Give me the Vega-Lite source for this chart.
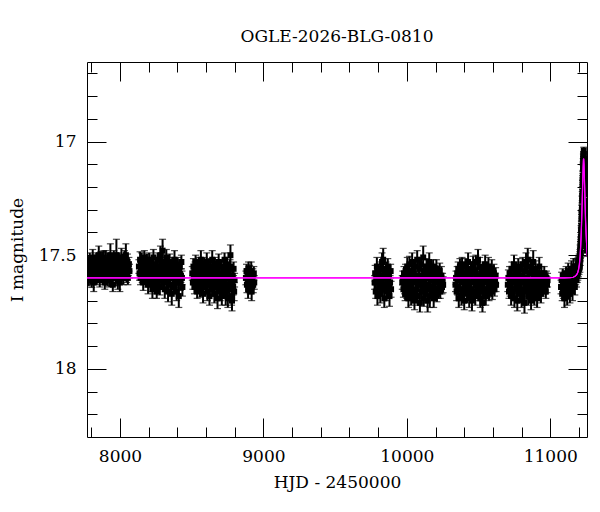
{
  "$schema": "https://vega.github.io/schema/vega-lite/v6.json",
  "autosize": "none",
  "width": 500,
  "height": 375,
  "padding": {"left": 87, "top": 62, "right": 13, "bottom": 75},
  "background": "white",
  "title": {"text": "OGLE-2026-BLG-0810", "font": "DejaVu Serif", "fontSize": 17, "fontWeight": "normal", "color": "black", "offset": 16},
  "config": {
    "view": {"stroke": "black", "strokeWidth": 1},
    "axis": {"labelFont": "DejaVu Serif", "titleFont": "DejaVu Serif", "labelFontSize": 17, "titleFontSize": 17, "titleFontWeight": "normal", "labelColor": "black", "titleColor": "black", "tickColor": "black", "tickWidth": 1, "domain": false, "grid": false}
  },
  "datasets": {
    "obs": [
      {"t":7772,"m":17.55,"e":0.03},{"t":7775,"m":17.58,"e":0.03},{"t":7779,"m":17.53,"e":0.025},{"t":7782,"m":17.60,"e":0.035},{"t":7786,"m":17.56,"e":0.03},{"t":7789,"m":17.52,"e":0.03},{"t":7793,"m":17.59,"e":0.04},{"t":7796,"m":17.57,"e":0.028},{"t":7800,"m":17.54,"e":0.03},{"t":7803,"m":17.61,"e":0.032},
      {"t":7807,"m":17.55,"e":0.03},{"t":7810,"m":17.51,"e":0.035},{"t":7814,"m":17.58,"e":0.03},{"t":7817,"m":17.62,"e":0.04},{"t":7821,"m":17.56,"e":0.03},{"t":7824,"m":17.53,"e":0.028},{"t":7828,"m":17.59,"e":0.03},{"t":7831,"m":17.55,"e":0.05},{"t":7835,"m":17.52,"e":0.03},{"t":7838,"m":17.60,"e":0.03},
      {"t":7842,"m":17.57,"e":0.035},{"t":7845,"m":17.54,"e":0.03},{"t":7849,"m":17.58,"e":0.03},{"t":7852,"m":17.50,"e":0.04},{"t":7856,"m":17.56,"e":0.03},{"t":7859,"m":17.61,"e":0.03},{"t":7863,"m":17.55,"e":0.028},{"t":7866,"m":17.52,"e":0.035},{"t":7870,"m":17.59,"e":0.03},{"t":7873,"m":17.57,"e":0.03},
      {"t":7877,"m":17.53,"e":0.045},{"t":7880,"m":17.60,"e":0.03},{"t":7884,"m":17.56,"e":0.03},{"t":7887,"m":17.51,"e":0.03},{"t":7891,"m":17.58,"e":0.035},{"t":7894,"m":17.62,"e":0.03},{"t":7898,"m":17.55,"e":0.03},{"t":7901,"m":17.53,"e":0.05},{"t":7905,"m":17.59,"e":0.03},{"t":7908,"m":17.56,"e":0.028},
      {"t":7912,"m":17.52,"e":0.03},{"t":7915,"m":17.60,"e":0.035},{"t":7919,"m":17.57,"e":0.03},{"t":7922,"m":17.54,"e":0.03},{"t":7926,"m":17.61,"e":0.03},{"t":7929,"m":17.55,"e":0.04},{"t":7933,"m":17.50,"e":0.05},{"t":7936,"m":17.58,"e":0.03},{"t":7940,"m":17.56,"e":0.03},{"t":7943,"m":17.53,"e":0.035},
      {"t":7947,"m":17.59,"e":0.03},{"t":7950,"m":17.63,"e":0.03},{"t":7954,"m":17.55,"e":0.03},{"t":7957,"m":17.52,"e":0.04},{"t":7961,"m":17.58,"e":0.03},{"t":7964,"m":17.56,"e":0.03},{"t":7968,"m":17.54,"e":0.03},{"t":7971,"m":17.60,"e":0.035},{"t":7975,"m":17.50,"e":0.07},{"t":7978,"m":17.57,"e":0.03},
      {"t":7982,"m":17.53,"e":0.03},{"t":7985,"m":17.61,"e":0.04},{"t":7989,"m":17.55,"e":0.03},{"t":7992,"m":17.52,"e":0.03},{"t":7996,"m":17.59,"e":0.035},{"t":7999,"m":17.62,"e":0.04},{"t":8003,"m":17.56,"e":0.03},{"t":8006,"m":17.54,"e":0.03},{"t":8010,"m":17.51,"e":0.04},{"t":8013,"m":17.58,"e":0.03},
      {"t":8017,"m":17.56,"e":0.03},{"t":8020,"m":17.53,"e":0.035},{"t":8024,"m":17.60,"e":0.03},{"t":8027,"m":17.55,"e":0.03},{"t":8031,"m":17.52,"e":0.04},{"t":8034,"m":17.58,"e":0.03},{"t":8038,"m":17.56,"e":0.03},{"t":8041,"m":17.50,"e":0.05},{"t":8045,"m":17.59,"e":0.03},{"t":8048,"m":17.55,"e":0.03},
      {"t":8052,"m":17.53,"e":0.035},{"t":8055,"m":17.60,"e":0.03},{"t":8059,"m":17.56,"e":0.03},{"t":8062,"m":17.54,"e":0.03},{"t":8066,"m":17.57,"e":0.03},
      {"t":8132,"m":17.55,"e":0.03},{"t":8136,"m":17.58,"e":0.03},{"t":8140,"m":17.52,"e":0.035},{"t":8143,"m":17.60,"e":0.03},{"t":8147,"m":17.56,"e":0.03},{"t":8151,"m":17.53,"e":0.04},{"t":8155,"m":17.59,"e":0.03},{"t":8158,"m":17.55,"e":0.03},{"t":8162,"m":17.62,"e":0.035},{"t":8166,"m":17.57,"e":0.03},
      {"t":8170,"m":17.51,"e":0.03},{"t":8173,"m":17.58,"e":0.045},{"t":8177,"m":17.54,"e":0.03},{"t":8181,"m":17.61,"e":0.03},{"t":8185,"m":17.56,"e":0.03},{"t":8188,"m":17.53,"e":0.035},{"t":8192,"m":17.59,"e":0.03},{"t":8196,"m":17.63,"e":0.04},{"t":8200,"m":17.55,"e":0.03},{"t":8203,"m":17.52,"e":0.03},
      {"t":8207,"m":17.60,"e":0.035},{"t":8211,"m":17.57,"e":0.03},{"t":8215,"m":17.54,"e":0.03},{"t":8218,"m":17.62,"e":0.04},{"t":8222,"m":17.58,"e":0.03},{"t":8226,"m":17.65,"e":0.04},{"t":8230,"m":17.55,"e":0.03},{"t":8233,"m":17.51,"e":0.035},{"t":8237,"m":17.60,"e":0.03},{"t":8241,"m":17.57,"e":0.03},
      {"t":8245,"m":17.63,"e":0.04},{"t":8248,"m":17.54,"e":0.03},{"t":8252,"m":17.59,"e":0.035},{"t":8256,"m":17.66,"e":0.03},{"t":8260,"m":17.56,"e":0.03},{"t":8263,"m":17.52,"e":0.03},{"t":8267,"m":17.61,"e":0.04},{"t":8271,"m":17.58,"e":0.03},{"t":8275,"m":17.55,"e":0.03},{"t":8278,"m":17.64,"e":0.035},
      {"t":8282,"m":17.50,"e":0.04},{"t":8286,"m":17.57,"e":0.03},{"t":8290,"m":17.60,"e":0.03},{"t":8293,"m":17.53,"e":0.035},{"t":8297,"m":17.48,"e":0.05},{"t":8301,"m":17.62,"e":0.03},{"t":8305,"m":17.56,"e":0.03},{"t":8308,"m":17.59,"e":0.04},{"t":8312,"m":17.65,"e":0.04},{"t":8316,"m":17.54,"e":0.03},
      {"t":8320,"m":17.58,"e":0.03},{"t":8323,"m":17.51,"e":0.035},{"t":8327,"m":17.61,"e":0.03},{"t":8331,"m":17.57,"e":0.03},{"t":8335,"m":17.66,"e":0.045},{"t":8338,"m":17.55,"e":0.03},{"t":8342,"m":17.60,"e":0.03},{"t":8346,"m":17.53,"e":0.035},{"t":8350,"m":17.63,"e":0.03},{"t":8353,"m":17.58,"e":0.03},
      {"t":8357,"m":17.56,"e":0.04},{"t":8361,"m":17.67,"e":0.05},{"t":8365,"m":17.54,"e":0.03},{"t":8368,"m":17.60,"e":0.03},{"t":8372,"m":17.57,"e":0.035},{"t":8376,"m":17.64,"e":0.03},{"t":8380,"m":17.52,"e":0.04},{"t":8383,"m":17.59,"e":0.03},{"t":8387,"m":17.62,"e":0.03},{"t":8391,"m":17.56,"e":0.035},
      {"t":8395,"m":17.66,"e":0.04},{"t":8398,"m":17.58,"e":0.03},{"t":8402,"m":17.54,"e":0.03},{"t":8406,"m":17.61,"e":0.035},{"t":8410,"m":17.68,"e":0.05},{"t":8413,"m":17.57,"e":0.03},{"t":8417,"m":17.55,"e":0.03},{"t":8421,"m":17.62,"e":0.035},{"t":8425,"m":17.59,"e":0.03},{"t":8428,"m":17.53,"e":0.03},
      {"t":8432,"m":17.60,"e":0.03},{"t":8435,"m":17.64,"e":0.04},
      {"t":8504,"m":17.58,"e":0.03},{"t":8508,"m":17.62,"e":0.03},{"t":8512,"m":17.55,"e":0.035},{"t":8515,"m":17.60,"e":0.03},{"t":8519,"m":17.64,"e":0.03},{"t":8523,"m":17.57,"e":0.04},{"t":8527,"m":17.53,"e":0.03},{"t":8530,"m":17.61,"e":0.03},{"t":8534,"m":17.59,"e":0.035},{"t":8538,"m":17.66,"e":0.03},
      {"t":8542,"m":17.56,"e":0.03},{"t":8545,"m":17.62,"e":0.04},{"t":8549,"m":17.54,"e":0.03},{"t":8553,"m":17.60,"e":0.03},{"t":8557,"m":17.65,"e":0.035},{"t":8560,"m":17.58,"e":0.03},{"t":8564,"m":17.52,"e":0.04},{"t":8568,"m":17.63,"e":0.03},{"t":8572,"m":17.60,"e":0.03},{"t":8575,"m":17.56,"e":0.035},
      {"t":8579,"m":17.67,"e":0.04},{"t":8583,"m":17.59,"e":0.03},{"t":8587,"m":17.54,"e":0.03},{"t":8590,"m":17.62,"e":0.03},{"t":8594,"m":17.57,"e":0.035},{"t":8598,"m":17.64,"e":0.03},{"t":8602,"m":17.60,"e":0.03},{"t":8605,"m":17.53,"e":0.04},{"t":8609,"m":17.66,"e":0.04},{"t":8613,"m":17.58,"e":0.03},
      {"t":8617,"m":17.61,"e":0.03},{"t":8620,"m":17.55,"e":0.035},{"t":8624,"m":17.68,"e":0.04},{"t":8628,"m":17.60,"e":0.03},{"t":8632,"m":17.56,"e":0.03},{"t":8635,"m":17.63,"e":0.035},{"t":8639,"m":17.59,"e":0.03},{"t":8643,"m":17.52,"e":0.04},{"t":8647,"m":17.65,"e":0.03},{"t":8650,"m":17.61,"e":0.03},
      {"t":8654,"m":17.57,"e":0.035},{"t":8658,"m":17.67,"e":0.04},{"t":8662,"m":17.54,"e":0.03},{"t":8665,"m":17.62,"e":0.03},{"t":8669,"m":17.59,"e":0.035},{"t":8673,"m":17.64,"e":0.03},{"t":8677,"m":17.56,"e":0.03},{"t":8680,"m":17.69,"e":0.045},{"t":8684,"m":17.60,"e":0.03},{"t":8688,"m":17.53,"e":0.035},
      {"t":8692,"m":17.63,"e":0.03},{"t":8695,"m":17.58,"e":0.03},{"t":8699,"m":17.66,"e":0.04},{"t":8703,"m":17.61,"e":0.03},{"t":8707,"m":17.55,"e":0.03},{"t":8710,"m":17.68,"e":0.04},{"t":8714,"m":17.59,"e":0.03},{"t":8718,"m":17.62,"e":0.035},{"t":8722,"m":17.56,"e":0.03},{"t":8725,"m":17.65,"e":0.04},
      {"t":8729,"m":17.52,"e":0.03},{"t":8733,"m":17.60,"e":0.03},{"t":8737,"m":17.67,"e":0.05},{"t":8740,"m":17.57,"e":0.03},{"t":8744,"m":17.63,"e":0.035},{"t":8748,"m":17.54,"e":0.03},{"t":8752,"m":17.69,"e":0.04},{"t":8755,"m":17.60,"e":0.03},{"t":8759,"m":17.58,"e":0.035},{"t":8763,"m":17.65,"e":0.04},
      {"t":8767,"m":17.55,"e":0.03},{"t":8770,"m":17.50,"e":0.045},{"t":8774,"m":17.62,"e":0.03},{"t":8778,"m":17.68,"e":0.04},{"t":8781,"m":17.70,"e":0.045},{"t":8785,"m":17.59,"e":0.03},{"t":8789,"m":17.64,"e":0.035},{"t":8792,"m":17.56,"e":0.03},{"t":8796,"m":17.66,"e":0.04},{"t":8799,"m":17.61,"e":0.03},
      {"t":8878,"m":17.60,"e":0.03},{"t":8882,"m":17.57,"e":0.03},{"t":8885,"m":17.63,"e":0.035},{"t":8889,"m":17.59,"e":0.03},{"t":8893,"m":17.65,"e":0.04},{"t":8896,"m":17.56,"e":0.03},{"t":8900,"m":17.62,"e":0.03},{"t":8904,"m":17.58,"e":0.035},{"t":8907,"m":17.64,"e":0.03},{"t":8911,"m":17.60,"e":0.03},
      {"t":8915,"m":17.57,"e":0.04},{"t":8918,"m":17.66,"e":0.04},{"t":8922,"m":17.61,"e":0.03},{"t":8926,"m":17.59,"e":0.03},{"t":8929,"m":17.63,"e":0.035},{"t":8933,"m":17.58,"e":0.03},{"t":8936,"m":17.62,"e":0.03},
      {"t":9775,"m":17.62,"e":0.03},{"t":9779,"m":17.58,"e":0.035},{"t":9783,"m":17.66,"e":0.03},{"t":9787,"m":17.60,"e":0.03},{"t":9791,"m":17.55,"e":0.04},{"t":9795,"m":17.68,"e":0.04},{"t":9799,"m":17.61,"e":0.03},{"t":9803,"m":17.57,"e":0.03},{"t":9807,"m":17.64,"e":0.035},{"t":9811,"m":17.59,"e":0.03},
      {"t":9815,"m":17.67,"e":0.04},{"t":9819,"m":17.56,"e":0.03},{"t":9823,"m":17.62,"e":0.03},{"t":9827,"m":17.53,"e":0.04},{"t":9831,"m":17.65,"e":0.03},{"t":9835,"m":17.52,"e":0.05},{"t":9839,"m":17.60,"e":0.03},{"t":9843,"m":17.69,"e":0.04},{"t":9847,"m":17.58,"e":0.03},{"t":9851,"m":17.63,"e":0.035},
      {"t":9855,"m":17.56,"e":0.03},{"t":9859,"m":17.66,"e":0.04},{"t":9863,"m":17.61,"e":0.03},{"t":9867,"m":17.55,"e":0.035},{"t":9871,"m":17.64,"e":0.03},{"t":9875,"m":17.59,"e":0.03},{"t":9879,"m":17.68,"e":0.045},{"t":9883,"m":17.62,"e":0.03},{"t":9887,"m":17.57,"e":0.03},{"t":9890,"m":17.65,"e":0.035},
      {"t":9968,"m":17.62,"e":0.03},{"t":9972,"m":17.60,"e":0.03},{"t":9976,"m":17.65,"e":0.035},{"t":9980,"m":17.58,"e":0.03},{"t":9984,"m":17.63,"e":0.04},{"t":9988,"m":17.67,"e":0.03},{"t":9991,"m":17.57,"e":0.03},{"t":9995,"m":17.61,"e":0.035},{"t":9999,"m":17.66,"e":0.03},{"t":10003,"m":17.55,"e":0.04},
      {"t":10007,"m":17.63,"e":0.03},{"t":10011,"m":17.69,"e":0.04},{"t":10014,"m":17.59,"e":0.03},{"t":10018,"m":17.54,"e":0.035},{"t":10022,"m":17.64,"e":0.03},{"t":10026,"m":17.61,"e":0.03},{"t":10030,"m":17.68,"e":0.04},{"t":10034,"m":17.57,"e":0.03},{"t":10037,"m":17.53,"e":0.04},{"t":10041,"m":17.66,"e":0.03},
      {"t":10045,"m":17.62,"e":0.03},{"t":10049,"m":17.58,"e":0.035},{"t":10053,"m":17.70,"e":0.04},{"t":10057,"m":17.60,"e":0.03},{"t":10060,"m":17.55,"e":0.03},{"t":10064,"m":17.65,"e":0.035},{"t":10068,"m":17.62,"e":0.03},{"t":10072,"m":17.52,"e":0.04},{"t":10076,"m":17.68,"e":0.04},{"t":10080,"m":17.59,"e":0.03},
      {"t":10083,"m":17.63,"e":0.03},{"t":10087,"m":17.56,"e":0.035},{"t":10091,"m":17.71,"e":0.04},{"t":10095,"m":17.61,"e":0.03},{"t":10099,"m":17.54,"e":0.03},{"t":10103,"m":17.66,"e":0.04},{"t":10106,"m":17.59,"e":0.03},{"t":10110,"m":17.64,"e":0.03},{"t":10114,"m":17.51,"e":0.05},{"t":10118,"m":17.69,"e":0.035},
      {"t":10122,"m":17.62,"e":0.03},{"t":10126,"m":17.57,"e":0.03},{"t":10129,"m":17.67,"e":0.04},{"t":10133,"m":17.60,"e":0.03},{"t":10137,"m":17.55,"e":0.035},{"t":10141,"m":17.65,"e":0.03},{"t":10145,"m":17.70,"e":0.05},{"t":10149,"m":17.58,"e":0.03},{"t":10152,"m":17.63,"e":0.03},{"t":10156,"m":17.53,"e":0.04},
      {"t":10160,"m":17.68,"e":0.05},{"t":10164,"m":17.61,"e":0.03},{"t":10168,"m":17.57,"e":0.035},{"t":10172,"m":17.66,"e":0.03},{"t":10175,"m":17.59,"e":0.03},{"t":10179,"m":17.64,"e":0.04},{"t":10183,"m":17.55,"e":0.03},{"t":10187,"m":17.69,"e":0.04},{"t":10191,"m":17.62,"e":0.03},{"t":10195,"m":17.58,"e":0.035},
      {"t":10198,"m":17.66,"e":0.03},{"t":10202,"m":17.60,"e":0.03},{"t":10206,"m":17.56,"e":0.04},{"t":10210,"m":17.67,"e":0.035},{"t":10214,"m":17.62,"e":0.03},{"t":10218,"m":17.59,"e":0.03},{"t":10221,"m":17.65,"e":0.04},{"t":10225,"m":17.61,"e":0.03},{"t":10229,"m":17.57,"e":0.035},{"t":10233,"m":17.66,"e":0.03},
      {"t":10237,"m":17.62,"e":0.03},{"t":10241,"m":17.59,"e":0.04},{"t":10245,"m":17.64,"e":0.03},{"t":10249,"m":17.61,"e":0.03},{"t":10253,"m":17.63,"e":0.035},
      {"t":10339,"m":17.63,"e":0.03},{"t":10343,"m":17.60,"e":0.03},{"t":10347,"m":17.66,"e":0.04},{"t":10351,"m":17.58,"e":0.03},{"t":10354,"m":17.64,"e":0.035},{"t":10358,"m":17.56,"e":0.03},{"t":10362,"m":17.69,"e":0.04},{"t":10366,"m":17.61,"e":0.03},{"t":10370,"m":17.55,"e":0.035},{"t":10374,"m":17.65,"e":0.03},
      {"t":10377,"m":17.59,"e":0.03},{"t":10381,"m":17.68,"e":0.04},{"t":10385,"m":17.54,"e":0.03},{"t":10389,"m":17.62,"e":0.03},{"t":10393,"m":17.66,"e":0.035},{"t":10397,"m":17.58,"e":0.03},{"t":10400,"m":17.70,"e":0.04},{"t":10404,"m":17.60,"e":0.03},{"t":10408,"m":17.55,"e":0.035},{"t":10412,"m":17.64,"e":0.03},
      {"t":10416,"m":17.61,"e":0.03},{"t":10420,"m":17.67,"e":0.04},{"t":10423,"m":17.57,"e":0.03},{"t":10427,"m":17.53,"e":0.04},{"t":10431,"m":17.63,"e":0.03},{"t":10435,"m":17.69,"e":0.04},{"t":10439,"m":17.59,"e":0.03},{"t":10443,"m":17.65,"e":0.035},{"t":10446,"m":17.56,"e":0.03},{"t":10450,"m":17.62,"e":0.03},
      {"t":10454,"m":17.70,"e":0.045},{"t":10458,"m":17.58,"e":0.03},{"t":10462,"m":17.54,"e":0.035},{"t":10466,"m":17.66,"e":0.03},{"t":10469,"m":17.61,"e":0.03},{"t":10473,"m":17.57,"e":0.04},{"t":10477,"m":17.68,"e":0.04},{"t":10481,"m":17.53,"e":0.03},{"t":10485,"m":17.63,"e":0.03},{"t":10489,"m":17.59,"e":0.035},
      {"t":10492,"m":17.65,"e":0.03},{"t":10496,"m":17.52,"e":0.045},{"t":10500,"m":17.67,"e":0.03},{"t":10504,"m":17.60,"e":0.03},{"t":10508,"m":17.55,"e":0.04},{"t":10512,"m":17.69,"e":0.04},{"t":10515,"m":17.62,"e":0.03},{"t":10519,"m":17.58,"e":0.035},{"t":10523,"m":17.64,"e":0.03},{"t":10527,"m":17.71,"e":0.04},
      {"t":10531,"m":17.56,"e":0.03},{"t":10535,"m":17.61,"e":0.03},{"t":10538,"m":17.66,"e":0.035},{"t":10542,"m":17.59,"e":0.03},{"t":10546,"m":17.54,"e":0.04},{"t":10550,"m":17.68,"e":0.04},{"t":10554,"m":17.62,"e":0.03},{"t":10558,"m":17.57,"e":0.03},{"t":10561,"m":17.65,"e":0.035},{"t":10565,"m":17.60,"e":0.03},
      {"t":10569,"m":17.55,"e":0.04},{"t":10573,"m":17.67,"e":0.03},{"t":10577,"m":17.61,"e":0.03},{"t":10581,"m":17.58,"e":0.035},{"t":10584,"m":17.64,"e":0.03},{"t":10588,"m":17.62,"e":0.03},{"t":10592,"m":17.56,"e":0.04},{"t":10596,"m":17.66,"e":0.035},{"t":10600,"m":17.60,"e":0.03},{"t":10604,"m":17.63,"e":0.03},
      {"t":10607,"m":17.58,"e":0.04},{"t":10611,"m":17.65,"e":0.03},{"t":10615,"m":17.61,"e":0.03},{"t":10619,"m":17.59,"e":0.035},{"t":10622,"m":17.63,"e":0.03},
      {"t":10704,"m":17.63,"e":0.03},{"t":10708,"m":17.60,"e":0.035},{"t":10712,"m":17.66,"e":0.03},{"t":10716,"m":17.58,"e":0.03},{"t":10720,"m":17.64,"e":0.04},{"t":10724,"m":17.61,"e":0.03},{"t":10727,"m":17.68,"e":0.04},{"t":10731,"m":17.56,"e":0.03},{"t":10735,"m":17.62,"e":0.035},{"t":10739,"m":17.66,"e":0.03},
      {"t":10743,"m":17.59,"e":0.03},{"t":10747,"m":17.54,"e":0.04},{"t":10750,"m":17.69,"e":0.04},{"t":10754,"m":17.61,"e":0.03},{"t":10758,"m":17.57,"e":0.035},{"t":10762,"m":17.65,"e":0.03},{"t":10766,"m":17.62,"e":0.03},{"t":10770,"m":17.70,"e":0.045},{"t":10773,"m":17.58,"e":0.03},{"t":10777,"m":17.55,"e":0.035},
      {"t":10781,"m":17.64,"e":0.03},{"t":10785,"m":17.60,"e":0.03},{"t":10789,"m":17.67,"e":0.04},{"t":10793,"m":17.56,"e":0.03},{"t":10796,"m":17.62,"e":0.03},{"t":10800,"m":17.69,"e":0.04},{"t":10804,"m":17.59,"e":0.035},{"t":10808,"m":17.54,"e":0.03},{"t":10812,"m":17.65,"e":0.03},{"t":10816,"m":17.61,"e":0.04},
      {"t":10820,"m":17.71,"e":0.045},{"t":10823,"m":17.57,"e":0.03},{"t":10827,"m":17.63,"e":0.03},{"t":10831,"m":17.53,"e":0.04},{"t":10835,"m":17.66,"e":0.035},{"t":10839,"m":17.60,"e":0.03},{"t":10843,"m":17.52,"e":0.05},{"t":10846,"m":17.68,"e":0.04},{"t":10850,"m":17.62,"e":0.03},{"t":10854,"m":17.58,"e":0.035},
      {"t":10858,"m":17.64,"e":0.03},{"t":10862,"m":17.55,"e":0.04},{"t":10866,"m":17.70,"e":0.04},{"t":10869,"m":17.61,"e":0.03},{"t":10873,"m":17.57,"e":0.03},{"t":10877,"m":17.66,"e":0.035},{"t":10881,"m":17.53,"e":0.05},{"t":10885,"m":17.63,"e":0.03},{"t":10889,"m":17.68,"e":0.04},{"t":10892,"m":17.59,"e":0.03},
      {"t":10896,"m":17.56,"e":0.035},{"t":10900,"m":17.65,"e":0.03},{"t":10904,"m":17.62,"e":0.03},{"t":10908,"m":17.69,"e":0.04},{"t":10912,"m":17.58,"e":0.03},{"t":10915,"m":17.61,"e":0.035},{"t":10919,"m":17.66,"e":0.03},{"t":10923,"m":17.55,"e":0.04},{"t":10927,"m":17.63,"e":0.03},{"t":10931,"m":17.60,"e":0.03},
      {"t":10935,"m":17.67,"e":0.04},{"t":10938,"m":17.58,"e":0.03},{"t":10942,"m":17.62,"e":0.035},{"t":10946,"m":17.65,"e":0.03},{"t":10950,"m":17.60,"e":0.03},{"t":10954,"m":17.63,"e":0.04},{"t":10958,"m":17.58,"e":0.03},{"t":10961,"m":17.64,"e":0.03},{"t":10965,"m":17.61,"e":0.035},{"t":10969,"m":17.66,"e":0.03},
      {"t":10973,"m":17.60,"e":0.03},{"t":10977,"m":17.63,"e":0.035},{"t":10981,"m":17.61,"e":0.03},
      {"t":11075,"m":17.64,"e":0.03},{"t":11079,"m":17.61,"e":0.035},{"t":11083,"m":17.67,"e":0.03},{"t":11087,"m":17.59,"e":0.03},{"t":11091,"m":17.65,"e":0.04},{"t":11095,"m":17.62,"e":0.03},{"t":11099,"m":17.69,"e":0.04},{"t":11102,"m":17.60,"e":0.03},{"t":11106,"m":17.66,"e":0.035},{"t":11110,"m":17.58,"e":0.03},
      {"t":11114,"m":17.63,"e":0.03},{"t":11118,"m":17.68,"e":0.04},{"t":11121,"m":17.60,"e":0.03},{"t":11125,"m":17.57,"e":0.035},{"t":11129,"m":17.65,"e":0.03},{"t":11133,"m":17.61,"e":0.03},{"t":11137,"m":17.67,"e":0.04},{"t":11140,"m":17.58,"e":0.03},{"t":11144,"m":17.63,"e":0.03},{"t":11148,"m":17.56,"e":0.035},
      {"t":11151,"m":17.62,"e":0.03},{"t":11155,"m":17.66,"e":0.04},{"t":11158,"m":17.59,"e":0.03},{"t":11162,"m":17.55,"e":0.035},{"t":11165,"m":17.62,"e":0.03},{"t":11168,"m":17.58,"e":0.03},{"t":11171,"m":17.64,"e":0.035},{"t":11174,"m":17.57,"e":0.03},{"t":11177,"m":17.60,"e":0.03},{"t":11180,"m":17.55,"e":0.035},
      {"t":11183,"m":17.61,"e":0.03},{"t":11185,"m":17.57,"e":0.03},{"t":11188,"m":17.59,"e":0.03},{"t":11190,"m":17.55,"e":0.03},{"t":11192,"m":17.58,"e":0.03},{"t":11194,"m":17.54,"e":0.03},{"t":11196,"m":17.57,"e":0.025},{"t":11198,"m":17.53,"e":0.025},{"t":11200,"m":17.56,"e":0.025},{"t":11202,"m":17.52,"e":0.025},
      {"t":11204,"m":17.54,"e":0.025},{"t":11205.5,"m":17.51,"e":0.025},{"t":11207,"m":17.50,"e":0.025},{"t":11208.5,"m":17.48,"e":0.025},{"t":11210,"m":17.49,"e":0.025},{"t":11211,"m":17.46,"e":0.02},{"t":11212,"m":17.44,"e":0.02},{"t":11213,"m":17.45,"e":0.02},{"t":11214,"m":17.42,"e":0.02},{"t":11215,"m":17.39,"e":0.02},
      {"t":11216,"m":17.40,"e":0.02},{"t":11217,"m":17.37,"e":0.02},{"t":11218,"m":17.34,"e":0.02},{"t":11219,"m":17.33,"e":0.02},{"t":11220,"m":17.30,"e":0.02},{"t":11221,"m":17.29,"e":0.02},{"t":11222,"m":17.26,"e":0.02},{"t":11223,"m":17.24,"e":0.02},{"t":11224,"m":17.22,"e":0.02},{"t":11225,"m":17.19,"e":0.02},
      {"t":11226,"m":17.17,"e":0.02},{"t":11227,"m":17.15,"e":0.02},{"t":11228,"m":17.12,"e":0.02},{"t":11229,"m":17.11,"e":0.02},{"t":11230,"m":17.09,"e":0.015},{"t":11231,"m":17.07,"e":0.015},{"t":11232,"m":17.06,"e":0.015},{"t":11232.5,"m":17.08,"e":0.015},{"t":11233,"m":17.06,"e":0.015},{"t":11234,"m":17.08,"e":0.015},
      {"t":11235,"m":17.09,"e":0.015},{"t":11236,"m":17.12,"e":0.015},{"t":11237,"m":17.14,"e":0.02},{"t":11238,"m":17.17,"e":0.02},{"t":11239,"m":17.19,"e":0.02},{"t":11240,"m":17.21,"e":0.02},{"t":11241,"m":17.23,"e":0.02},{"t":11242,"m":17.26,"e":0.02},{"t":11243,"m":17.28,"e":0.02},{"t":11244,"m":17.31,"e":0.02},
      {"t":11245,"m":17.33,"e":0.02},{"t":11246,"m":17.35,"e":0.02},{"t":11247,"m":17.36,"e":0.02},{"t":11248,"m":17.38,"e":0.02},{"t":11249,"m":17.40,"e":0.02},{"t":11250,"m":17.41,"e":0.02},{"t":11252,"m":17.44,"e":0.02},{"t":11254,"m":17.46,"e":0.02},{"t":11256,"m":17.48,"e":0.025},
      {"t":11206,"m":17.55,"e":0.025},{"t":11209,"m":17.52,"e":0.025},{"t":11212.5,"m":17.49,"e":0.02},{"t":11215.5,"m":17.44,"e":0.02},{"t":11218.5,"m":17.38,"e":0.02},{"t":11221.5,"m":17.32,"e":0.02},{"t":11224.5,"m":17.25,"e":0.02},{"t":11227.5,"m":17.18,"e":0.02},{"t":11230.5,"m":17.11,"e":0.015},{"t":11233.5,"m":17.04,"e":0.015},
      {"t":11236.5,"m":17.10,"e":0.015},{"t":11239.5,"m":17.16,"e":0.02},{"t":11242.5,"m":17.23,"e":0.02},{"t":11245.5,"m":17.30,"e":0.02},{"t":11248.5,"m":17.35,"e":0.02},{"t":11251,"m":17.39,"e":0.02},{"t":11253,"m":17.42,"e":0.02},{"t":11255,"m":17.45,"e":0.02},{"t":11244.5,"m":17.36,"e":0.02},{"t":11250.5,"m":17.46,"e":0.02}
    ],
    "model": [
      {"t":7770,"m":17.600},{"t":11100,"m":17.600},{"t":11140,"m":17.599},{"t":11160,"m":17.597},{"t":11175,"m":17.592},{"t":11185,"m":17.585},{"t":11192,"m":17.575},{"t":11198,"m":17.56},{"t":11203,"m":17.54},{"t":11208,"m":17.505},
      {"t":11212,"m":17.46},{"t":11216,"m":17.40},{"t":11220,"m":17.32},{"t":11224,"m":17.23},{"t":11227,"m":17.16},{"t":11229,"m":17.115},{"t":11231,"m":17.085},{"t":11232,"m":17.075},{"t":11233,"m":17.078},{"t":11235,"m":17.10},
      {"t":11237,"m":17.14},{"t":11240,"m":17.21},{"t":11243,"m":17.28},{"t":11246,"m":17.35},{"t":11250,"m":17.41},{"t":11254,"m":17.46},{"t":11258,"m":17.50},{"t":11265,"m":17.54}
    ]
  },
  "resolve": {"axis": {"x": "independent", "y": "independent"}},
  "layer": [
    {
      "data": {"name": "obs"},
      "mark": {"type": "errorbar", "ticks": {"size": 7, "thickness": 1.2}, "rule": {"strokeWidth": 2}, "color": "black", "clip": true},
      "encoding": {
        "x": {"field": "t", "type": "quantitative", "scale": {"domain": [7770, 11256], "nice": false, "zero": false},
              "axis": {"orient": "bottom", "values": [7800, 8000, 8200, 8400, 8600, 8800, 9000, 9200, 9400, 9600, 9800, 10000, 10200, 10400, 10600, 10800, 11000, 11200], "tickSize": -10, "labels": false, "title": null}},
        "y": {"field": "m", "type": "quantitative", "scale": {"domain": [16.65, 18.3], "reverse": true, "nice": false, "zero": false},
              "axis": {"orient": "left", "values": [16.7, 16.8, 16.9, 17, 17.1, 17.2, 17.3, 17.4, 17.5, 17.6, 17.7, 17.8, 17.9, 18, 18.1, 18.2], "tickSize": -10, "labels": false, "title": null}},
        "yError": {"field": "e"}
      }
    },
    {
      "data": {"name": "obs"},
      "mark": {"type": "square", "size": 36, "color": "black", "opacity": 1, "clip": true},
      "encoding": {
        "x": {"field": "t", "type": "quantitative",
              "axis": {"orient": "bottom", "values": [8000, 9000, 10000, 11000], "tickSize": -19, "labelPadding": 30, "format": "d", "title": "HJD - 2450000", "titlePadding": 10}},
        "y": {"field": "m", "type": "quantitative",
              "axis": {"orient": "left", "values": [17, 17.5, 18], "tickSize": -19, "labelPadding": 30, "format": ".1~f", "title": "I magnitude", "titlePadding": 12}}
      }
    },
    {
      "data": {"name": "model"},
      "mark": {"type": "line", "color": "#ff00ff", "strokeWidth": 1.2, "clip": true},
      "encoding": {
        "x": {"field": "t", "type": "quantitative",
              "axis": {"orient": "top", "values": [8000, 9000, 10000, 11000], "tickSize": -19, "labels": false, "title": null}},
        "y": {"field": "m", "type": "quantitative",
              "axis": {"orient": "right", "values": [17, 17.5, 18], "tickSize": -19, "labels": false, "title": null}}
      }
    },
    {
      "data": {"name": "model"},
      "mark": {"type": "line", "color": "#ff00ff", "strokeWidth": 1.2, "clip": true},
      "encoding": {
        "x": {"field": "t", "type": "quantitative",
              "axis": {"orient": "top", "values": [7800, 8000, 8200, 8400, 8600, 8800, 9000, 9200, 9400, 9600, 9800, 10000, 10200, 10400, 10600, 10800, 11000, 11200], "tickSize": -10, "labels": false, "title": null}},
        "y": {"field": "m", "type": "quantitative",
              "axis": {"orient": "right", "values": [16.7, 16.8, 16.9, 17, 17.1, 17.2, 17.3, 17.4, 17.5, 17.6, 17.7, 17.8, 17.9, 18, 18.1, 18.2], "tickSize": -10, "labels": false, "title": null}}
      }
    }
  ]
}
